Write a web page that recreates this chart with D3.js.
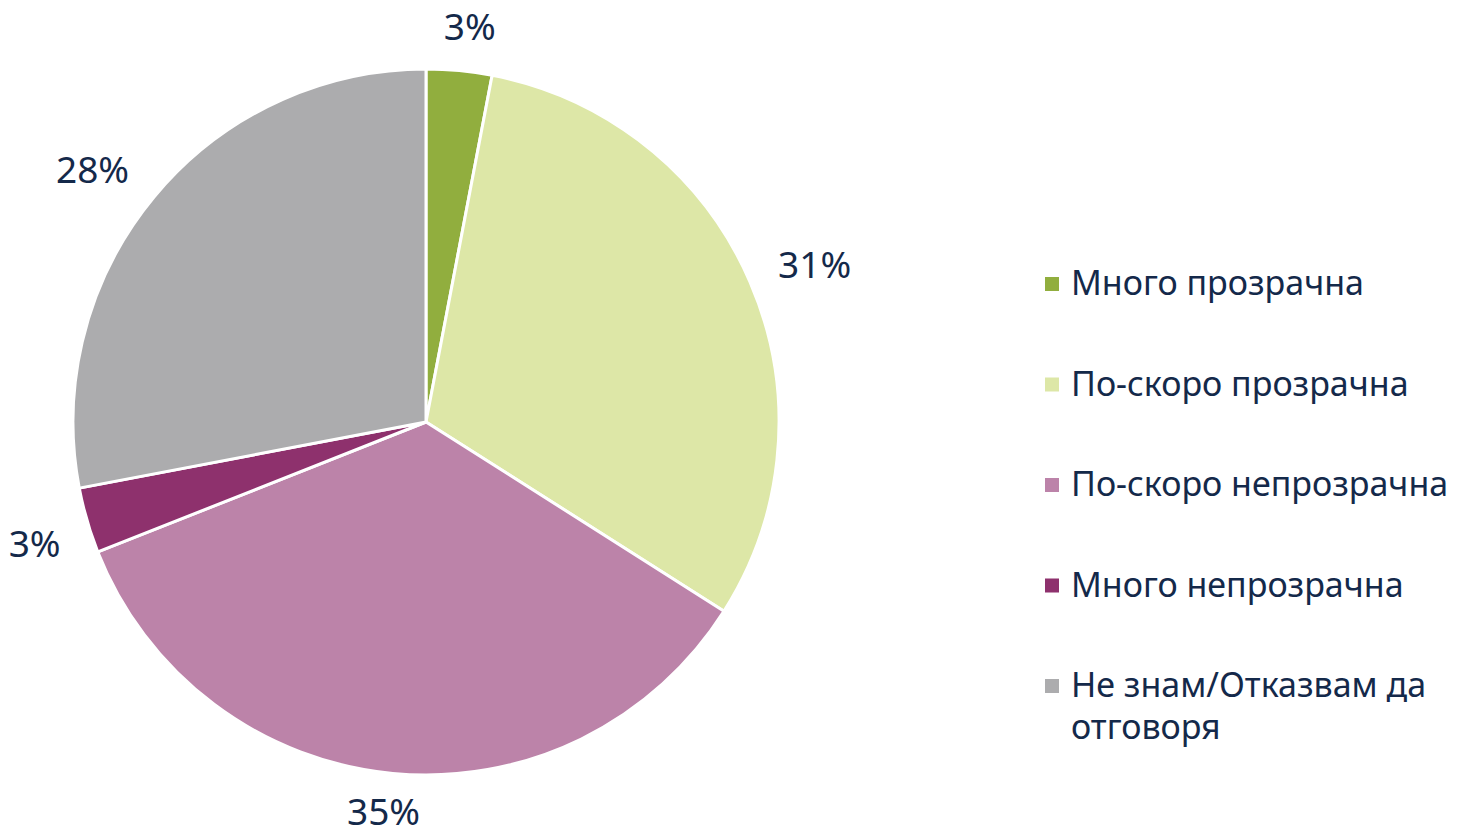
<!DOCTYPE html>
<html>
<head>
<meta charset="utf-8">
<script src="https://cdn.jsdelivr.net/npm/d3@7"></script>
<style>
  html, body { margin: 0; padding: 0; background: #ffffff; }
  svg { display: block; }
  text { font-family: "Noto Sans", "Open Sans", sans-serif; fill: #14294a; }
</style>
</head>
<body>
<svg id="chart" width="1468" height="837"></svg>
<script>
// Survey answers (share of respondents, %)
const categories = [
  "Много прозрачна",
  "По-скоро прозрачна",
  "По-скоро непрозрачна",
  "Много непрозрачна",
  "Не знам/Отказвам да отговоря"
];
const values = [3, 31, 35, 3, 28];
const colors = ["#91ae3e", "#dde7a7", "#bc83a9", "#8e316d", "#acacae"];
// legend lines (the last entry wraps onto two lines)
const legendLines = [
  ["Много прозрачна"],
  ["По-скоро прозрачна"],
  ["По-скоро непрозрачна"],
  ["Много непрозрачна"],
  ["Не знам/Отказвам да", "отговоря"]
];

const width = 1468, height = 837;
const svg = d3.select("#chart");
const cx = 426, cy = 422, radius = 353;

const pie = d3.pie().value(d => d.value).sort(null);
const arcs = pie(categories.map((c, i) => ({ name: c, value: values[i], color: colors[i] })));
const arc = d3.arc().innerRadius(0).outerRadius(radius);

const g = svg.append("g").attr("transform", `translate(${cx},${cy})`);

g.selectAll("path.slice")
  .data(arcs)
  .join("path")
  .attr("class", "slice")
  .attr("d", arc)
  .attr("fill", d => d.data.color)
  .attr("stroke", "#ffffff")
  .attr("stroke-width", 3)
  .attr("stroke-linejoin", "round");

// Percentage labels placed just outside the rim, box edge kept a fixed gap away
const labelFont = 37;
const gap = 27;
const angleNudge = [0.9, 1.2, 0.7, -0.9, -2.4]; // degrees, best-fit shifts
const labels = g.selectAll("text.pct")
  .data(arcs)
  .join("text")
  .attr("class", "pct")
  .attr("text-anchor", "middle")
  .attr("dominant-baseline", "central")
  .style("font-size", labelFont + "px")
  .text(d => d.data.value + "%");

labels.each(function (d, i) {
  const bb = this.getBBox();
  const w = bb.width, h = labelFont * 0.85;
  const a = (d.startAngle + d.endAngle) / 2 + angleNudge[i] * Math.PI / 180;
  const s = Math.sin(a), c = Math.cos(a);
  const dist = radius + gap + Math.abs(s) * w / 2 + Math.abs(c) * h / 2;
  // keep the whole text box inside the canvas
  const maxY = height - cy - bb.height / 2 - 1;
  d3.select(this).attr("x", s * dist).attr("y", Math.min(-c * dist, maxY));
});

// Legend
const legend = svg.append("g").attr("transform", "translate(1045,0)");
const rowY = d3.scaleLinear().domain([0, 4]).range([295, 697]);
const item = legend.selectAll("g.item")
  .data(arcs)
  .join("g")
  .attr("class", "item")
  .attr("transform", (d, i) => `translate(0,${rowY(i)})`);

item.append("rect")
  .attr("x", 0)
  .attr("y", -18)
  .attr("width", 14)
  .attr("height", 14)
  .attr("fill", d => d.data.color);

item.append("text")
  .attr("x", 26)
  .attr("y", 0)
  .style("font-size", "34px")
  .selectAll("tspan")
  .data((d, i) => legendLines[i])
  .join("tspan")
  .attr("x", 26)
  .attr("dy", (t, j) => j === 0 ? 0 : 42)
  .text(t => t);
</script>
</body>
</html>
